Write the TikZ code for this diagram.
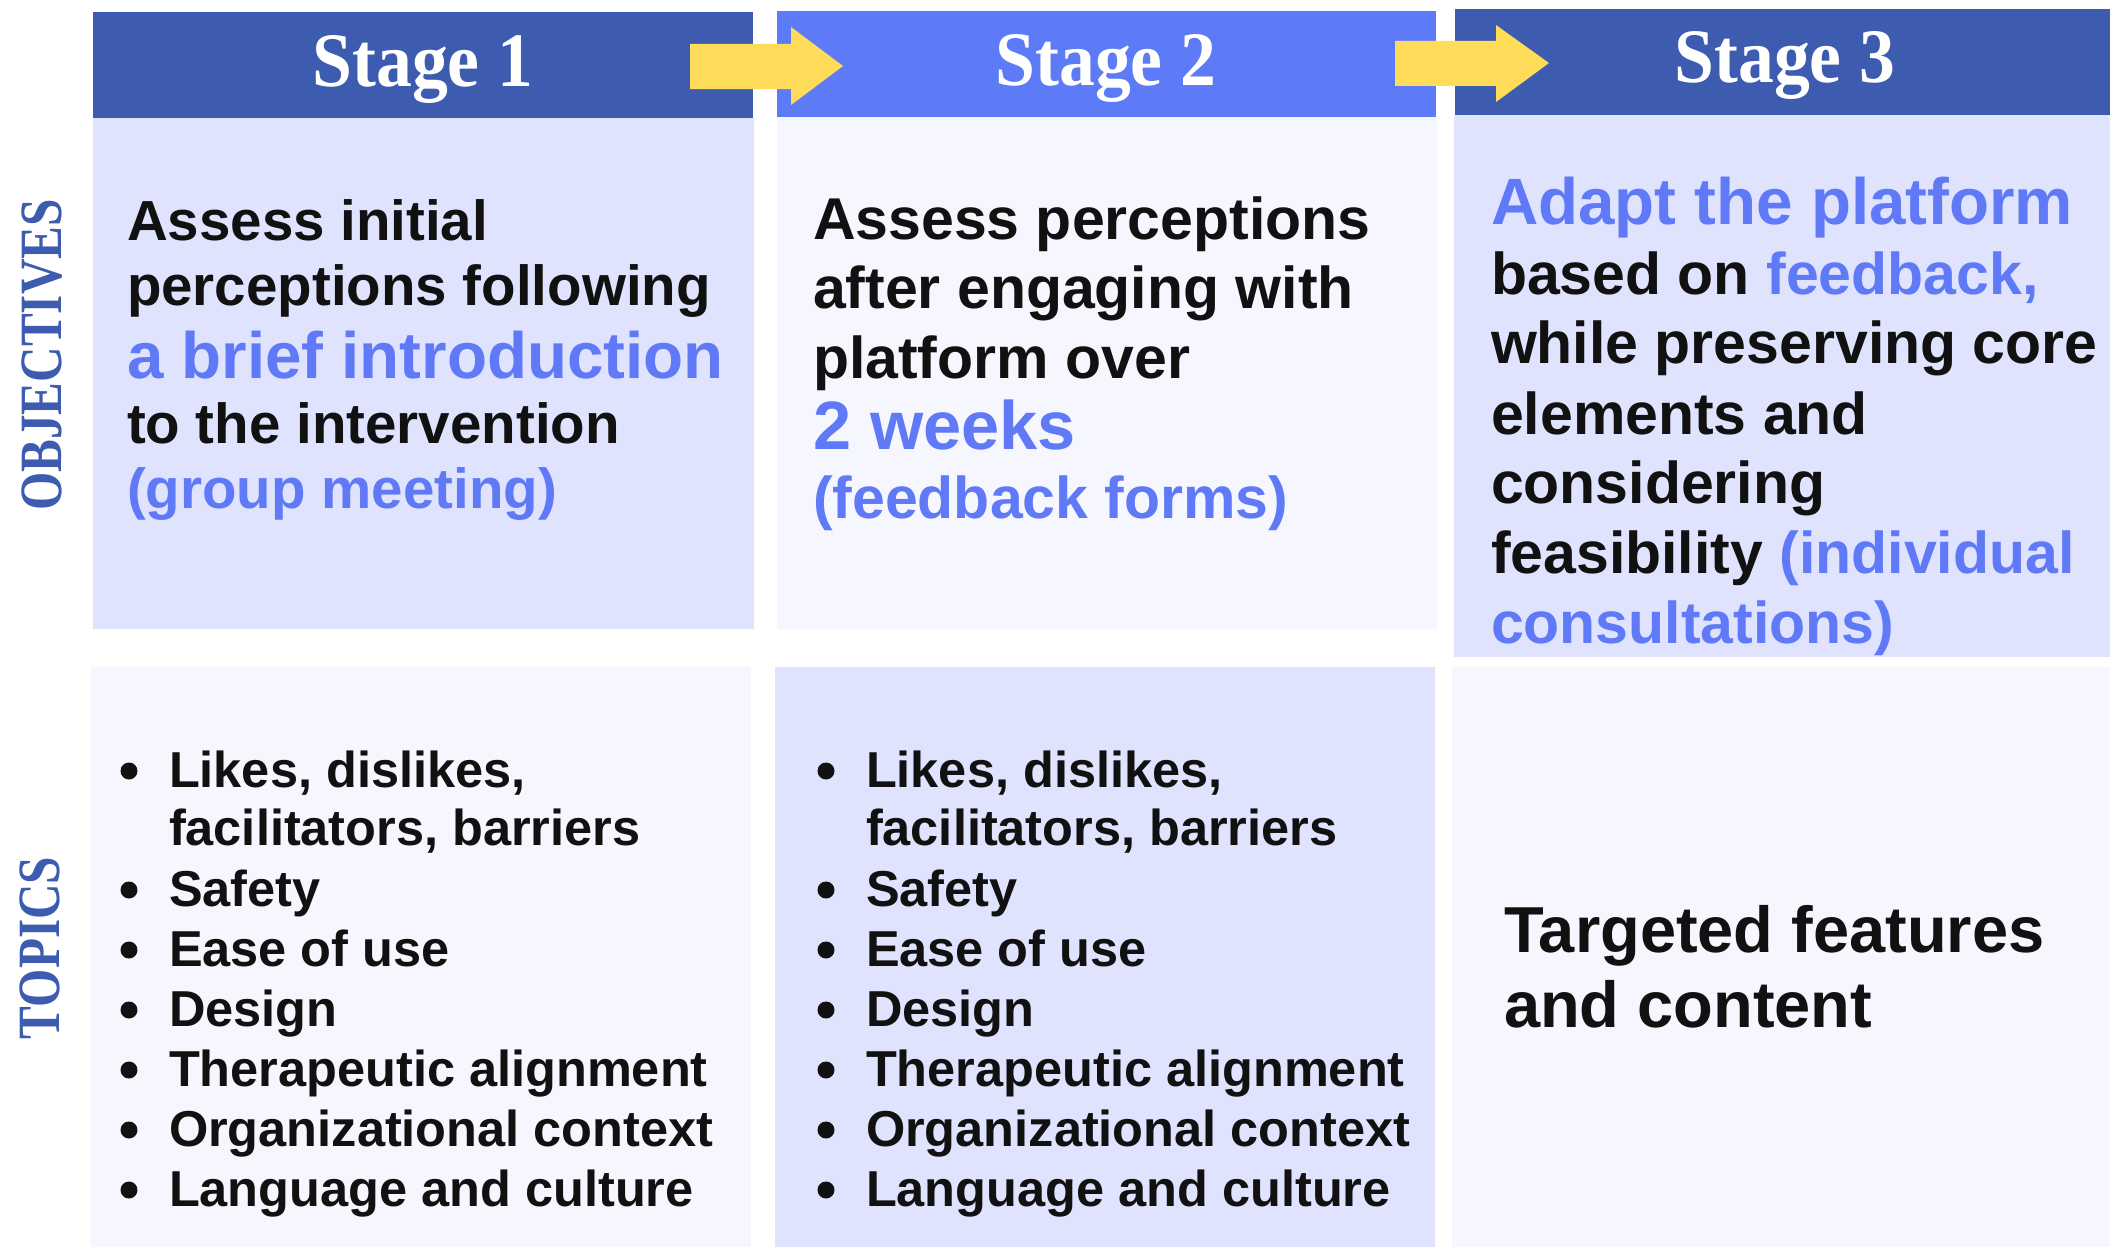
\documentclass[tikz,border=0pt]{standalone}
\usepackage{graphicx}
\usepackage{fontspec}
\setmainfont{Liberation Sans}
\newfontfamily\headfont{Liberation Serif}

\definecolor{hdark}{HTML}{3D5CB0}
\definecolor{hbright}{HTML}{5E7BF7}
\definecolor{celllav}{HTML}{DFE3FD}
\definecolor{cellpale}{HTML}{F6F7FE}
\definecolor{accent}{HTML}{6079F7}
\definecolor{arrowyellow}{HTML}{FEDC5A}
\definecolor{ink}{HTML}{111111}

\newcommand{\hl}[1]{\textcolor{accent}{#1}}

\tikzset{
  cell/.style={inner sep=0pt, outer sep=0pt, anchor=north west},
  txt/.style={inner sep=0pt, outer sep=0pt, anchor=base west, text=ink},
  headtxt/.style={inner sep=0pt, anchor=base, text=white,
    font=\headfont\bfseries\fontsize{77}{77}\selectfont},
  sidetxt/.style={inner sep=0pt, rotate=90, text=hdark,
    font=\headfont\bfseries\fontsize{60}{60}\selectfont},
  sa/.style={font=\bfseries\fontsize{56.5}{56.5}\selectfont},
  sb/.style={font=\bfseries\fontsize{59}{59}\selectfont},
  sbig/.style={font=\bfseries\fontsize{65.5}{65.5}\selectfont, text=accent},
  shuge/.style={font=\bfseries\fontsize{68.5}{68.5}\selectfont, text=accent},
  sap/.style={sa, text=accent},
  sbp/.style={sb, text=accent},
  tp/.style={font=\bfseries\fontsize{50.5}{50.5}\selectfont},
  blt/.style={circle, fill=ink, inner sep=0pt, minimum size=17pt},
  yarrow/.style={fill=arrowyellow},
}

\begin{document}
\begin{tikzpicture}[x=1pt, y=-1pt]
  \useasboundingbox[fill=white] (0,0) rectangle (2110,1247);

  % header bars
  \node[cell, fill=hdark,   minimum width=660pt, minimum height=106pt] (h1) at (93,12) {};
  \node[cell, fill=hbright, minimum width=659pt, minimum height=106pt] (h2) at (777,11) {};
  \node[cell, fill=hdark,   minimum width=655pt, minimum height=106pt] (h3) at (1455,9) {};

  % objective cells
  \node[cell, fill=celllav,  minimum width=661pt, minimum height=511pt] (o1) at (93,118) {};
  \node[cell, fill=cellpale, minimum width=660pt, minimum height=512pt] (o2) at (777,117) {};
  \node[cell, fill=celllav,  minimum width=656pt, minimum height=542pt] (o3) at (1454,115) {};

  % topic cells
  \node[cell, fill=cellpale, minimum width=660pt, minimum height=580pt] (t1) at (91,667) {};
  \node[cell, fill=celllav,  minimum width=660pt, minimum height=580pt] (t2) at (775,667) {};
  \node[cell, fill=cellpale, minimum width=658pt, minimum height=580pt] (t3) at (1452,667) {};

  % arrows between stages
  \fill[yarrow] (690,44) -- (791,44) -- (791,27) -- (843,66) -- (791,105) -- (791,89) -- (690,89) -- cycle;
  \fill[yarrow] (1395,41) -- (1496,41) -- (1496,25) -- (1549,63) -- (1496,102) -- (1496,86) -- (1395,86) -- cycle;

  % stage titles
  \node[headtxt] (s1) at (423,86) {\scalebox{0.93}[1]{Stage 1}};
  \node[headtxt] (s2) at (1106,85) {\scalebox{0.93}[1]{Stage 2}};
  \node[headtxt] (s3) at (1785,83) {\scalebox{0.93}[1]{Stage 3}};

  % row labels
  \node[sidetxt] (lobj) at (42,355) {\scalebox{0.82}[1]{OBJECTIVES}};
  \node[sidetxt] (ltop) at (40,948) {\scalebox{0.82}[1]{TOPICS}};

  % stage 1 objective
  \foreach \y/\s/\t [count=\i] in {240/sa/{Assess initial}, 305/sa/{perceptions following},
      378/sbig/{a brief introduction}, 443/sa/{to the intervention}, 508/sap/{(group meeting)}}
    \node[txt, \s] (oa\i) at (127,\y) {\t};

  % stage 2 objective
  \foreach \y/\s/\t [count=\i] in {239/sb/{Assess perceptions}, 308/sb/{after engaging with},
      378/sb/{platform over}, 449/shuge/{2 weeks}, 518/sbp/{(feedback forms)}}
    \node[txt, \s] (ob\i) at (813,\y) {\t};

  % stage 3 objective
  \foreach \y/\s/\t [count=\i] in {224/sbig/{Adapt the platform}, 294/sb/{based on \hl{feedback,}},
      363/sb/{while preserving core}, 434/sb/{elements and}, 503/sb/{considering},
      573/sb/{feasibility \hl{(individual}}, 643/sb/{\hl{consultations)}}}
    \node[txt, \s] (oc\i) at (1491,\y) {\t};

  % topic lists, stages 1 and 2
  \foreach \bx/\tx/\tag in {129/169/a, 826/866/b} {
    \foreach \y/\t [count=\i] in {787/{Likes, dislikes,}, 845/{facilitators, barriers},
        906/{Safety}, 966/{Ease of use}, 1026/{Design}, 1086/{Therapeutic alignment},
        1146/{Organizational context}, 1206/{Language and culture}}
      \node[txt, tp] (tl\tag\i) at (\tx,\y) {\t};
    \foreach \y [count=\i] in {787, 906, 966, 1026, 1086, 1146, 1206}
      \node[blt] (bu\tag\i) at (\bx,\y-16) {};
  }

  % stage 3 topics
  \node[txt, font=\bfseries\fontsize{65}{65}\selectfont] (tc1) at (1504,952) {Targeted features};
  \node[txt, font=\bfseries\fontsize{65}{65}\selectfont] (tc2) at (1504,1027) {and content};
\end{tikzpicture}
\end{document}
